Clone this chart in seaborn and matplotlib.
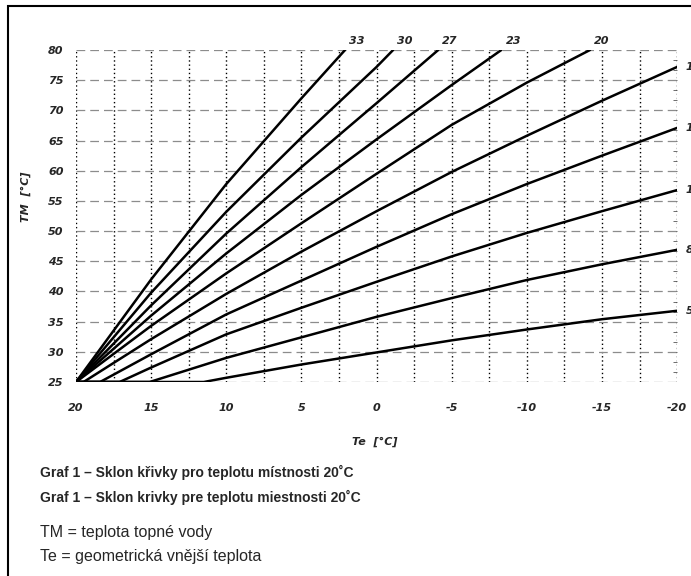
import numpy as np
import pandas as pd
import seaborn as sns
import matplotlib.pyplot as plt
from matplotlib.patches import Rectangle

# curve labels (slope numbers), steepest first
curve_labels = ['33', '30', '27', '23', '20', '17', '13', '10', '8', '5']

# outside temperature Te / flow temperature TM
te_33 = [20, 15, 10, 5, 2.1]
tm_33 = [25, 42.0, 57.8, 72.0, 80]
te_30 = [20, 15, 10, 5, 0, -1.1]
tm_30 = [25, 39.8, 53.2, 65.5, 77.2, 80]
te_27 = [20, 15, 10, 5, 0, -4.1]
tm_27 = [25, 37.7, 49.6, 60.6, 71.2, 80]
te_23 = [20, 15, 10, 5, 0, -5, -8.3]
tm_23 = [25, 36.0, 46.3, 56.0, 65.2, 74.2, 80]
te_20 = [20, 15, 10, 5, 0, -5, -10, -14.2]
tm_20 = [25, 34.3, 43.0, 51.3, 59.5, 67.6, 74.6, 80]
te_17 = [20, 19.5, 15, 10, 5, 0, -5, -10, -15, -20]
tm_17 = [25, 25, 32.1, 39.6, 46.6, 53.3, 59.8, 65.8, 71.6, 77.2]
te_13 = [20, 18.4, 15, 10, 5, 0, -5, -10, -15, -20]
tm_13 = [25, 25, 29.6, 36.2, 41.8, 47.4, 52.8, 57.8, 62.5, 67.1]
te_10 = [20, 17.1, 15, 10, 5, 0, -5, -10, -15, -20]
tm_10 = [25, 25, 27.4, 32.9, 37.3, 41.6, 45.8, 49.7, 53.3, 56.8]
te_8 = [20, 15.1, 10, 5, 0, -5, -10, -15, -20]
tm_8 = [25, 25, 29.0, 32.4, 35.8, 38.9, 41.9, 44.5, 46.9]
te_5 = [20, 11.5, 10, 5, 0, -5, -10, -15, -20]
tm_5 = [25, 25, 25.7, 27.9, 29.9, 31.9, 33.7, 35.4, 36.8]

x_ticks = [20, 15, 10, 5, 0, -5, -10, -15, -20]
y_ticks = [25, 30, 35, 40, 45, 50, 55, 60, 65, 70, 75, 80]

series = [(te_33, tm_33), (te_30, tm_30), (te_27, tm_27), (te_23, tm_23), (te_20, tm_20),
          (te_17, tm_17), (te_13, tm_13), (te_10, tm_10), (te_8, tm_8), (te_5, tm_5)]

frames = []
for lab, (te, tm) in zip(curve_labels, series):
    frames.append(pd.DataFrame({'Te': te, 'TM': tm, 'curve': lab}))
df = pd.concat(frames, ignore_index=True)

sns.set_style('white')
plt.rcParams['font.family'] = ['Liberation Sans', 'DejaVu Sans']

fig = plt.figure(figsize=(6.91, 5.76), dpi=100)
ax = fig.add_axes([0.110, 0.3368, 0.870, 0.5764])

# grid: dotted verticals every 2.5, grey dashed horizontals every 5
for x in np.arange(-20, 20.1, 2.5):
    ax.axvline(x, color='black', ls=(0, (1, 2)), lw=1.0, zorder=1)
for y in y_ticks:
    ax.axhline(y, color='#8c8c8c', ls=(0, (7, 4)), lw=0.9, zorder=1)

sns.lineplot(data=df, x='Te', y='TM', units='curve', estimator=None, sort=False,
             color='black', linewidth=1.8, ax=ax, zorder=3)

ax.set_xlim(20, -20)
ax.set_ylim(25, 80)
for s in ax.spines.values():
    s.set_visible(False)

# short inward ticks along the right edge
ax.yaxis.set_minor_locator(plt.MultipleLocator(1.6667))
ax.tick_params(axis='y', which='minor', left=False, right=True, direction='in',
               length=3, width=0.6, color='#555555')

bi = dict(fontstyle='italic', fontweight='bold', fontsize=8, family='DejaVu Sans')
ax.set_xticks(x_ticks)
ax.set_xticklabels([str(v) for v in x_ticks], **bi)
ax.set_yticks(y_ticks)
ax.set_yticklabels([str(v) for v in y_ticks], **bi)
ax.tick_params(axis='x', which='major', length=0, pad=15)
ax.tick_params(axis='y', which='major', length=0, pad=9)

ax.set_xlabel('Te  [°C]', **bi)
ax.set_ylabel('TM  [°C]', **bi)
ax.xaxis.set_label_coords(0.4975, -0.166)
ax.yaxis.set_label_coords(-0.075, 0.557)

# curve labels at the end of each line
for lab, (te, tm) in zip(curve_labels, series):
    if tm[-1] >= 80:
        ax.annotate(lab, (te[-1], tm[-1]), xytext=(3, 3), textcoords='offset points',
                    ha='left', va='bottom', **bi)
    else:
        ax.annotate(lab, (te[-1], tm[-1]), xytext=(6, 0), textcoords='offset points',
                    ha='left', va='center', annotation_clip=False, **bi)

# captions
fig.text(40 / 691, 1 - 472 / 576, 'Graf 1 – Sklon křivky pro teplotu místnosti 20˚C',
         fontsize=10, fontweight='bold', va='center')
fig.text(40 / 691, 1 - 497 / 576, 'Graf 1 – Sklon krivky pre teplotu miestnosti 20˚C',
         fontsize=10, fontweight='bold', va='center')
fig.text(40 / 691, 1 - 532 / 576, 'TM = teplota topné vody',
         fontsize=11.5, va='center')
fig.text(40 / 691, 1 - 557 / 576, 'Te = geometrická vnější teplota',
         fontsize=11.5, va='center')

# outer frame (cut off at right and bottom like the scan)
fig.add_artist(Rectangle((8 / 691, -0.1), 1.2, 1 - 6 / 576 + 0.1, transform=fig.transFigure,
                         fill=False, lw=1.5, ec='black'))

fig.savefig('out.png', dpi=100)
